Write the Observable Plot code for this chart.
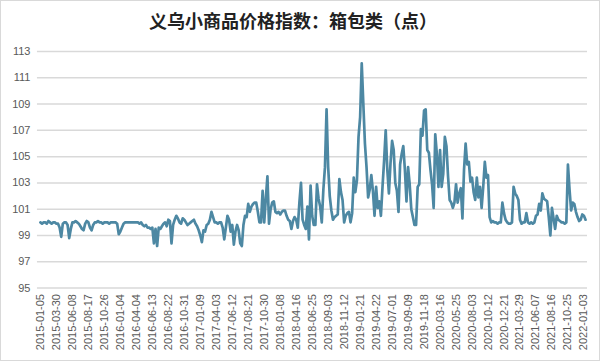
<!DOCTYPE html>
<html>
<head>
<meta charset="utf-8">
<script src="https://cdn.jsdelivr.net/npm/d3@7"></script>
<script src="https://cdn.jsdelivr.net/npm/@observablehq/plot@0.6"></script>
<style>
  html, body { margin: 0; padding: 0; background: #fff; }
  #frame { position: relative; width: 598px; height: 359px; border: 1px solid #d9d9d9; overflow: hidden; background: #fff; }
  #title { position: absolute; left: 0; top: 6px; width: 584px; text-align: center; font-family: "Noto Sans CJK SC", sans-serif; font-weight: bold; font-size: 18px; color: #222; }
  #chart { position: absolute; left: -1px; top: 35px; }
</style>
</head>
<body>
<div id="frame">
  <div id="title">义乌小商品价格指数：箱包类（点）</div>
  <div id="chart"></div>
</div>
<script>
const tickLabels = ["2015-01-05","2015-03-30","2015-06-08","2015-08-17","2015-10-26","2016-01-04","2016-04-04","2016-06-13","2016-08-22","2016-10-31","2017-01-09","2017-04-03","2017-06-12","2017-08-21","2017-10-30","2018-01-08","2018-04-16","2018-06-25","2018-09-03","2018-11-12","2019-01-21","2019-04-22","2019-07-01","2019-09-09","2019-11-18","2020-03-16","2020-05-25","2020-08-03","2020-10-12","2020-12-21","2021-03-29","2021-06-07","2021-08-16","2021-10-25","2022-01-03"];

const values2015_2016 = [100.0,99.9,100.0,100.0,99.9,100.1,100.0,99.9,100.0,100.0,99.9,99.9,99.6,98.9,99.9,100.0,100.0,99.8,98.8,99.5,
100.0,100.0,100.1,100.0,99.9,99.7,99.5,99.4,99.9,100.1,100.0,99.6,99.4,99.8,100.0,100.0,100.1,100.0,100.0,99.9,
100.0,100.0,100.0,99.9,100.0,100.0,100.0,100.0,99.9,99.1,99.3,99.6,99.9,100.0,100.0,100.0,100.0,100.0,100.0,100.0,
100.0,100.0,99.9,100.0,99.8,99.7,99.8,99.6,99.6,99.5,99.6,98.4,99.5,98.2,99.6,99.5,99.7,99.9,100.0,99.7,
100.2,100.1,98.4,99.8,100.2,100.5,100.3,100.0,99.9,100.3,100.2,100.0,99.8,99.9,100.0,100.1,100.2,99.9,99.7,99.4];

const values2017_2018 = [99.0,98.5,99.4,99.3,99.8,99.9,100.2,100.8,100.4,100.0,100.0,99.9,100.0,100.0,99.6,98.7,99.6,100.5,100.2,99.3,
99.8,98.3,99.3,99.8,99.4,98.4,98.2,99.8,100.5,100.4,101.4,100.8,101.2,101.4,101.5,101.5,100.8,100.0,100.0,102.4,
100.0,101.8,103.5,99.9,101.0,101.5,101.6,100.8,100.7,100.8,100.6,100.8,100.9,100.9,100.5,100.2,100.1,99.5,100.1,100.4,
100.2,99.6,101.5,103.0,100.2,99.8,99.5,101.2,98.7,102.8,100.5,99.8,99.8,102.9,101.8,101.2,100.0,102.5,104.2,108.6,
104.2,102.0,100.9,100.2,100.4,100.5,100.6,103.3,102.3,101.7,100.0,100.5,100.7,100.8,100.0,100.7,103.4,102.3,103.2,106.5];

const values2019_2020 = [108.0,112.1,109.0,106.0,104.2,101.9,102.5,103.6,102.4,100.5,102.7,101.1,101.6,100.5,102.7,104.7,107.0,104.0,102.2,104.5,
106.2,105.5,103.0,102.4,100.8,104.4,105.2,105.8,104.0,101.6,104.2,102.9,101.0,100.4,99.8,99.8,102.7,102.9,107.1,106.6,
108.5,108.6,105.5,105.3,104.0,102.9,101.1,106.7,105.2,102.7,105.5,102.7,103.7,106.5,105.8,103.5,101.7,101.5,101.1,101.5,
102.9,101.5,102.2,102.6,100.3,104.0,106.0,104.4,104.6,103.1,103.4,102.3,101.7,103.4,101.9,102.7,101.1,102.7,104.6,103.4,
103.6,100.4,100.0,100.1,100.0,100.0,99.9,100.0,100.0,101.5,100.7,100.2,100.0,99.9,99.9,100.0,102.7,102.2,102.0,101.7];

const values2021 = [100.2,99.9,100.0,100.0,100.7,100.0,99.9,100.0,99.9,100.0,100.5,100.6,101.4,100.9,102.2,101.8,101.7,101.6,100.4,99.0,
101.1,100.3,99.5,100.5,100.2,100.1,100.0,100.0,99.9,100.0,104.4,102.5,100.9,101.5,101.4,100.8,100.4,100.1,100.2,100.6,
100.5,100.2];

const values = [...values2015_2016, ...values2017_2018, ...values2019_2020, ...values2021];
const data = values.map((v, i) => ({i, v}));

const chart = Plot.plot({
  width: 600,
  height: 325,
  marginLeft: 40,
  marginRight: 14,
  marginTop: 15,
  marginBottom: 73,
  style: {fontFamily: "'Liberation Sans', sans-serif", fontSize: "11px", color: "#595959", background: "transparent"},
  x: {
    type: "linear",
    domain: [0, values.length - 1],
    ticks: d3.range(0, tickLabels.length * 10, 10),
    tickFormat: d => tickLabels[d / 10],
    tickRotate: -90,
    tickSize: 0,
    tickPadding: 6,
    label: null
  },
  y: {
    domain: [95, 113],
    ticks: d3.range(95, 114, 2),
    tickSize: 0,
    tickPadding: 10,
    label: null
  },
  marks: [
    Plot.gridY(d3.range(95, 114, 2), {stroke: "#d9d9d9", strokeOpacity: 1, strokeWidth: 1.5, insetLeft: -3, insetRight: -2}),
    Plot.line(data, {x: "i", y: "v", stroke: "#4d88a3", strokeWidth: 2.7, curve: "linear"})
  ]
});
document.getElementById("chart").appendChild(chart);
</script>
</body>
</html>
